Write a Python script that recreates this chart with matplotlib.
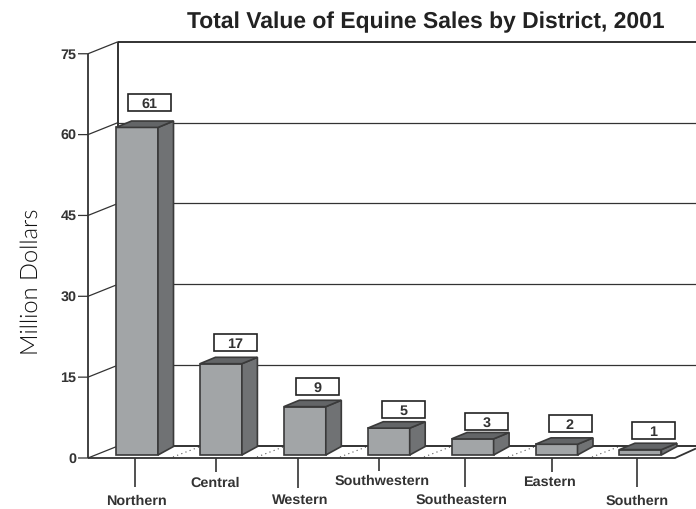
import matplotlib
matplotlib.use("Agg")
import matplotlib.pyplot as plt
from matplotlib.patches import Polygon, Rectangle

plt.rcParams["font.family"] = ["Liberation Sans", "DejaVu Sans"]
plt.rcParams["text.hinting"] = "no_hinting"

districts = ["Northern", "Central", "Western", "Southwestern", "Southeastern", "Eastern", "Southern"]
values = [61, 17, 9, 5, 3, 2, 1]
y_ticks = [0, 15, 30, 45, 60, 75]

W, H = 696, 510
X0, STEP = 116, 83.9      # pixel x of first bar, spacing
Y0, UNIT = 456, 5.37      # pixel y of bar base, pixels per million
TICK_UNIT = 5.39          # front axis scale is a bit larger than the bars
BAR_W = 42 / STEP

fig = plt.figure(figsize=(W / 100, H / 100), dpi=100)
ax = fig.add_axes([0, 0, 1, 1])
ax.set_xlim(-X0 / STEP, (W - X0) / STEP)
ax.set_ylim((Y0 - H) / UNIT, Y0 / UNIT)
ax.axis("off")


def px(x):
    return (x - X0) / STEP


def py(y):
    return (Y0 - y) / UNIT


def pline(xs, ys, **kw):
    kw.setdefault("color", "#222222")
    kw.setdefault("lw", 1.2)
    kw.setdefault("solid_capstyle", "butt")
    ax.plot([px(x) for x in xs], [py(y) for y in ys], **kw)


# floor
ax.add_patch(Polygon([(px(88), py(459)), (px(118), py(447)), (px(696), py(447)),
                      (px(696), py(449.5)), (px(675), py(459))],
                     closed=True, fc="white", ec="none", zorder=1))
for x in [173, 257, 340, 424, 508, 592]:
    pline([x, x + 26], [458, 448], color="#555555", lw=0.8, ls=(0, (1, 3)), zorder=2)
pline([88, 675, 696], [459, 459, 449.5], color="#333333", lw=1.3, zorder=2)
pline([118, 696], [447, 447], lw=1.3, zorder=2)

# walls and grid
pline([88, 88], [54.5, 459], color="#333333", lw=1.3)
pline([118, 118], [42.5, 447], lw=1.3)
pline([118, 696], [42.5, 42.5], lw=1.3)
for t in y_ticks:
    yf = 459 - t * TICK_UNIT
    pline([78, 88, 118], [yf, yf, yf - 12], color="#333333", lw=0.9)
    if t > 0 and t < 75:
        pline([118, 696], [yf - 12, yf - 12], color="#333333", lw=0.9)
    ax.text(px(76.5), py(yf), str(t), ha="right", va="center", fontsize=10.4,
            fontweight="bold", color="#333333")

# bars
edge = "#3a3a3a"
dx, dy, dy_base = 15.5 / STEP, 6.4 / UNIT, 8.5 / UNIT
box_x = [128, 214, 296, 382, 465, 548.5, 632]     # pixel left edge of value boxes
box_y = [112, 352, 396, 419, 431, 433, 440]       # pixel bottom edge of value boxes
box_w = 43 / STEP
box_h = 17.5 / UNIT
for i, v in enumerate(values):
    ax.bar(i, v, width=BAR_W, align="edge", color="#a2a5a7", edgecolor=edge, lw=1.2, zorder=4)
    ax.add_patch(Polygon([(i + BAR_W, 0), (i + BAR_W + dx, dy_base), (i + BAR_W + dx, v + dy), (i + BAR_W, v)],
                         closed=True, fc="#707274", ec=edge, lw=1.2, zorder=4))
    ax.add_patch(Polygon([(i, v), (i + dx, v + dy), (i + BAR_W + dx, v + dy), (i + BAR_W, v)],
                         closed=True, fc="#636567", ec=edge, lw=1.2, zorder=4))
    bx, by = px(box_x[i]), py(box_y[i])
    ax.add_patch(Rectangle((bx, by), box_w, box_h, fc="white", ec="#222222", lw=1.2, zorder=5))
    ax.text(bx + box_w / 2, by + box_h / 2, str(v), ha="center", va="center_baseline", fontsize=10.4,
            fontweight="bold", color="#333333", zorder=6)

# category labels on alternating drop lines
drop_x = [135, 216, 298, 379, 465, 552, 637]
drop_end = [488, 473, 489, 472, 488, 473, 488]
label_x = [136, 215, 300, 382, 462, 549.5, 637]
label_y = [501, 483, 500, 481, 500, 482, 501]
for name, x, e, lx, ly in zip(districts, drop_x, drop_end, label_x, label_y):
    pline([x, x], [459, e], color="#333333", lw=1.2)
    ax.text(px(lx), py(ly), name, ha="center", va="center", fontsize=10.4,
            fontweight="bold", color="#333333")

ax.text(px(425.5), py(22), "Total Value of Equine Sales by District, 2001", ha="center", va="center",
        fontsize=16.5, fontweight="bold", color="#222222")
ax.text(px(31), py(282), "Million Dollars", rotation=90, ha="center", va="center",
        fontsize=17, family=["Lato", "Liberation Sans"], fontweight=300, color="#111111")

fig.savefig("out.png", dpi=100)
